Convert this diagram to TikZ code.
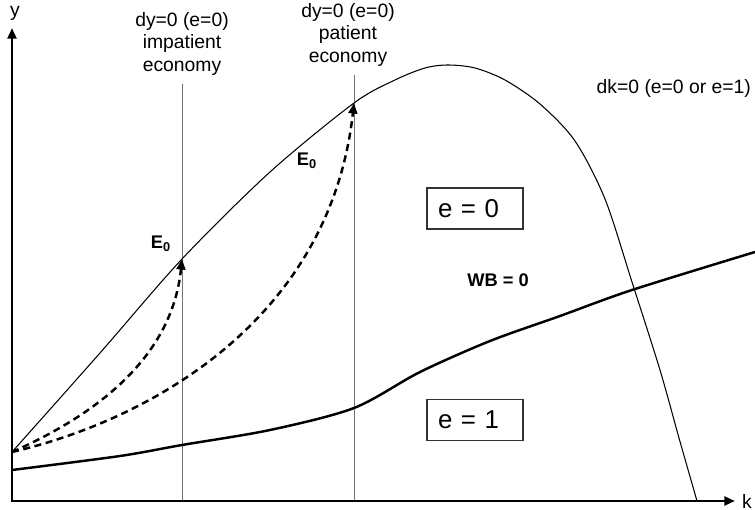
\documentclass[tikz,border=0pt]{standalone}
\usepackage{fontspec}
\setmainfont{Liberation Sans}
\usetikzlibrary{positioning, arrows.meta}

\begin{document}
\begin{tikzpicture}[
    x=0.02cm, y=-0.02cm,
    every node/.style={font=\fontsize{11}{13}\selectfont, inner sep=1pt},
    axis/.style={line width=1.7pt, -{Triangle[length=6pt,width=5pt]}},
    locus/.style={draw=black!55, line width=0.5pt},
    saddle/.style={line width=1.4pt, dash pattern=on 4pt off 2.6pt, -{Triangle[length=6pt,width=5pt]}},
    regime/.style={draw=black!80, line width=0.6pt, minimum width=1.92cm, minimum height=0.82cm,
        inner xsep=0.22cm, text width=1.48cm, align=left, font=\fontsize{14.7}{16}\selectfont},
    eqlabel/.style={font=\bfseries\fontsize{10.4}{12}\selectfont}
]
\useasboundingbox (0,0) rectangle (755,510);

\coordinate (origin) at (12,501);
\coordinate (ytop) at (12,28);
\coordinate (kend) at (735,501);
\coordinate (start) at (12,452);
\coordinate (E0a) at (182,259);
\coordinate (E0b) at (354,103);

\node (ylbl) at (15,13) {y};
\node[anchor=west] (klbl) at (740,501) {k};
\node[align=center] (impatient) at (182,44) {dy=0 (e=0)\\impatient\\economy};
\node[align=center] (patient) at (348,35) {dy=0 (e=0)\\patient\\economy};
\node[anchor=east] (dklbl) at (753,89) {dk=0 (e=0 or e=1)};

% dy=0 loci
\draw[locus] (E0a |- impatient.south) ++(0,6) -- (E0a |- origin);
\draw[locus] (E0b |- patient.south) ++(0,6) -- (E0b |- origin);

% dk=0 locus
\draw[line width=0.6pt] plot[smooth] coordinates {(start) (100,353) (E0a) (270,172) (E0b) (395,80)
    (425,68) (448,65) (475,68) (505,80) (540,104) (575,141) (605,199) (632,282) (660,370) (679,438) (697,501)};

% WB=0
\draw[line width=1.4pt] plot[smooth] coordinates {(12,470) (120,456) (182,445) (270,430) (354,408)
    (420,372) (490,341) (560,316) (632,290) (755,252)};

% saddle paths
\draw[saddle] (start) .. controls (125,402) and (174,338) .. (E0a);
\draw[saddle] (start) .. controls (150,420) and (330,320) .. (E0b);

\node[eqlabel] (E0alabel) at (161,244) {E\textsubscript{0}};
\node[eqlabel] (E0blabel) at (307,161) {E\textsubscript{0}};
\node[eqlabel] (wb) at (498,280) {WB = 0};

\node[regime] (e0) at (475,208.5) {e = 0};
\node[regime] (e1) at (475,420) {e = 1};

\draw[axis] (origin) -- (ytop);
\draw[axis] ([xshift=-0.85pt]origin) -- (kend);
\end{tikzpicture}
\end{document}
